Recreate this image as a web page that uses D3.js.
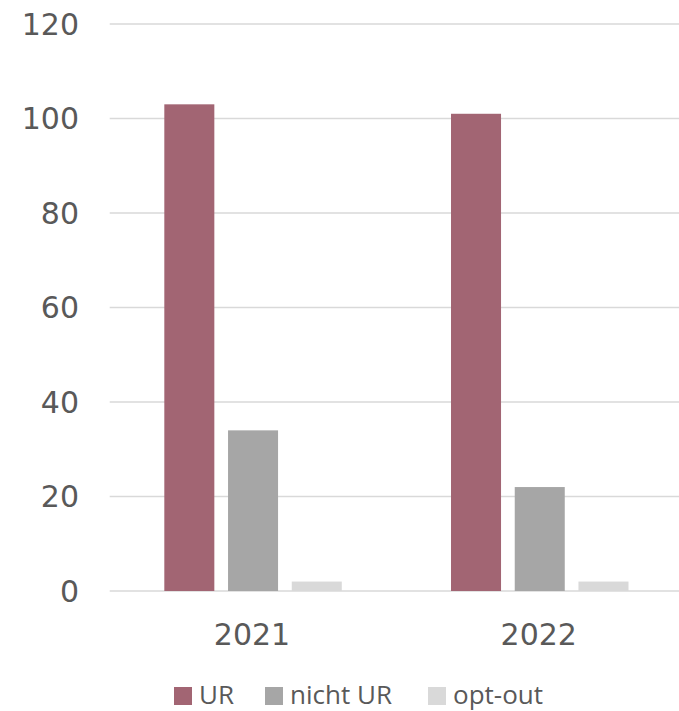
<!DOCTYPE html>
<html lang="de">
  <head>
    <meta charset="UTF-8" />
    <script src="https://d3js.org/d3.v7.min.js"></script>
    <style>
      body { margin: 0; background: #fff; overflow: hidden; }
      .tick-label { font-family: "DejaVu Sans", Verdana, sans-serif; font-size: 30px; fill: #595959; }
      .legend-label { font-family: "Open Sans", sans-serif; font-size: 26px; fill: #595959; }
    </style>
  </head>
  <body>
    <svg id="chart" width="679" height="711"></svg>
    <script>
      // data
      const years = ["2021", "2022"];
      const series = ["UR", "nicht UR", "opt-out"];
      const colors = ["#A26573", "#A6A6A6", "#D9D9D9"];
      const ur = [103, 101];
      const nichtUR = [34, 22];
      const optOut = [2, 2];
      const yTicks = [0, 20, 40, 60, 80, 100, 120];

      const values = [ur, nichtUR, optOut];

      const svg = d3.select("#chart");
      const plotLeft = 109.7, plotRight = 683.1, plotTop = 24, plotBottom = 591;

      const x = d3.scaleBand().domain(years).range([plotLeft, plotRight]);
      const xInner = d3.scaleBand()
        .domain(series)
        .range([0, x.bandwidth()])
        .paddingInner(0.215)
        .paddingOuter(0.857);
      const y = d3.scaleLinear().domain([0, 120]).range([plotBottom, plotTop]);

      // gridlines
      svg.append("g")
        .selectAll("line")
        .data(yTicks)
        .enter()
        .append("line")
        .attr("x1", plotLeft)
        .attr("x2", plotRight)
        .attr("y1", d => y(d))
        .attr("y2", d => y(d))
        .attr("stroke", "#D9D9D9")
        .attr("stroke-width", 1.5);

      // y tick labels
      svg.append("g")
        .selectAll("text")
        .data(yTicks)
        .enter()
        .append("text")
        .attr("class", "tick-label")
        .attr("x", 79)
        .attr("y", d => y(d))
        .attr("dy", "0.36em")
        .attr("text-anchor", "end")
        .text(d => d);

      // bars
      series.forEach((s, i) => {
        svg.append("g")
          .selectAll("rect")
          .data(years)
          .enter()
          .append("rect")
          .attr("x", d => x(d) + xInner(s))
          .attr("width", xInner.bandwidth())
          .attr("y", (d, j) => y(values[i][j]))
          .attr("height", (d, j) => y(0) - y(values[i][j]))
          .attr("fill", colors[i]);
      });

      // x labels
      svg.append("g")
        .selectAll("text")
        .data(years)
        .enter()
        .append("text")
        .attr("class", "tick-label")
        .attr("x", d => x(d) + x.bandwidth() / 2 - 1)
        .attr("y", 645)
        .attr("text-anchor", "middle")
        .text(d => d);

      // legend
      const legendX = [174, 265, 428];
      const legend = svg.append("g")
        .selectAll("g")
        .data(series)
        .enter()
        .append("g")
        .attr("transform", (d, i) => `translate(${legendX[i]},687)`);
      legend.append("rect")
        .attr("width", 18)
        .attr("height", 18)
        .attr("fill", (d, i) => colors[i]);
      legend.append("text")
        .attr("class", "legend-label")
        .attr("x", 25)
        .attr("y", 8)
        .attr("dy", "0.36em")
        .text(d => d);
    </script>
  </body>
</html>
